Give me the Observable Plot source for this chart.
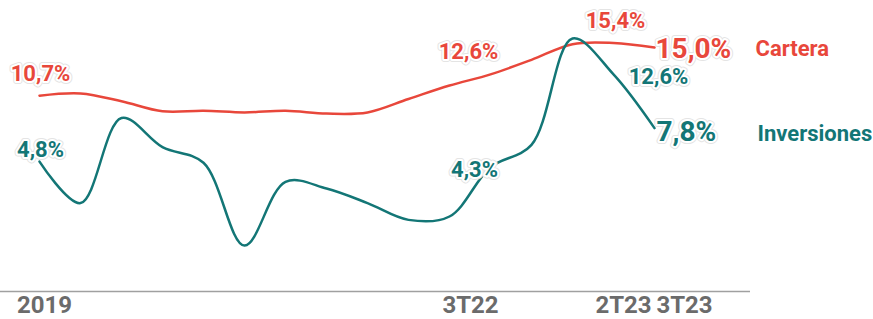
<!DOCTYPE html>
<html>
<head>
<meta charset="utf-8">
<script src="https://cdn.jsdelivr.net/npm/d3@7"></script>
<script src="https://cdn.jsdelivr.net/npm/@observablehq/plot@0.6"></script>
<style>
  html, body { margin: 0; padding: 0; background: #fff; }
  svg { display: block; }
</style>
</head>
<body>
<div id="chart"></div>
<script>
// Quarterly data, first point = 2019 close
const quarters = ["2019","1T20","2T20","3T20","4T20","1T21","2T21","3T21","4T21","1T22","2T22","3T22","4T22","1T23","2T23","3T23"];
const cartera = [10.7, 10.9, 10.2, 9.3, 9.35, 9.2, 9.35, 9.1, 9.2, 10.4, 11.6, 12.6, 13.9, 15.3, 15.4, 15.0];
const inversiones = [4.8, 1.1, 8.7, 6.1, 4.7, -2.7, 3.0, 2.4, 1.1, -0.4, -0.1, 4.3, 6.3, 15.8, 12.6, 7.8];
const tickLabels = ["2019", "3T22", "2T23", "3T23"];
const seriesNames = ["Cartera", "Inversiones"];

const RED = "#e8473b";
const TEAL = "#137676";
const FONT = "Roboto, 'Noto Sans', sans-serif";

const rows = (name, vals) => quarters.map((q, i) => ({series: name, q, v: vals[i]}));
const carteraRows = rows("Cartera", cartera);
const invRows = rows("Inversiones", inversiones);
const fmt = v => v.toFixed(1).replace(".", ",") + "%";
const pick = (data, q) => data.filter(d => d.q === q);

function valueLabel(data, q, color, opts) {
  const base = {
    x: "q", y: "v", text: d => fmt(d.v),
    fontWeight: 700, fontSize: 22, fontFamily: FONT,
    ...opts
  };
  return [
    Plot.text(pick(data, q), {...base, fill: "none", stroke: "#e4e4e4", strokeWidth: 6}),
    Plot.text(pick(data, q), {...base, fill: color, stroke: "white", strokeWidth: 4, paintOrder: "stroke"})
  ];
}
function tick(label, dx) {
  return Plot.text([label], {
    x: d => d, frameAnchor: "bottom", dy: 21, dx,
    fill: "#6b6b6b", fontWeight: 700, fontSize: 24, fontFamily: FONT
  });
}
const last = quarters[quarters.length - 1];

const chart = Plot.plot({
  width: 873,
  height: 319,
  marginTop: 0,
  marginBottom: 28,
  marginLeft: 0,
  marginRight: 123,
  style: {fontFamily: FONT, background: "white", overflow: "visible"},
  x: {type: "point", domain: quarters, range: [37, 656], padding: 0, axis: null},
  y: {domain: [-6.8, 19.2], axis: null},
  marks: [
    Plot.ruleY([-6.8], {stroke: "#a0a0a0", strokeWidth: 1.5}),
    Plot.line(carteraRows, {x: "q", y: "v", stroke: RED, strokeWidth: 2.5, curve: "catmull-rom"}),
    Plot.line(invRows, {x: "q", y: "v", stroke: TEAL, strokeWidth: 2.5, curve: "catmull-rom"}),
    // Cartera labels
    valueLabel(carteraRows, "2019", RED, {dx: 1, dy: -22}),
    valueLabel(carteraRows, "3T22", RED, {dx: -22, dy: -22}),
    valueLabel(carteraRows, "2T23", RED, {dx: 2, dy: -22}),
    valueLabel(carteraRows, last, RED, {textAnchor: "start", dx: 1, dy: 2, fontSize: 28}),
    // Inversiones labels
    valueLabel(invRows, "2019", TEAL, {dx: 1, dy: -12}),
    valueLabel(invRows, "3T22", TEAL, {dx: -16, dy: 3}),
    valueLabel(invRows, "2T23", TEAL, {dx: 45, dy: 3}),
    valueLabel(invRows, last, TEAL, {textAnchor: "start", dx: 2, dy: 4, fontSize: 28}),
    // Series names
    Plot.text(pick(carteraRows, last), {x: "q", y: "v", text: () => seriesNames[0], fill: RED, textAnchor: "start", dx: 101, dy: 1, fontWeight: 700, fontSize: 22, fontFamily: FONT}),
    Plot.text(pick(invRows, last), {x: "q", y: "v", text: () => seriesNames[1], fill: TEAL, textAnchor: "start", dx: 103, dy: 6, fontWeight: 700, fontSize: 22, fontFamily: FONT}),
    // Axis labels
    tick(tickLabels[0], 5),
    tick(tickLabels[1], -20),
    tick(tickLabels[2], 10),
    tick(tickLabels[3], 30)
  ]
});
document.getElementById("chart").append(chart);
</script>
</body>
</html>
